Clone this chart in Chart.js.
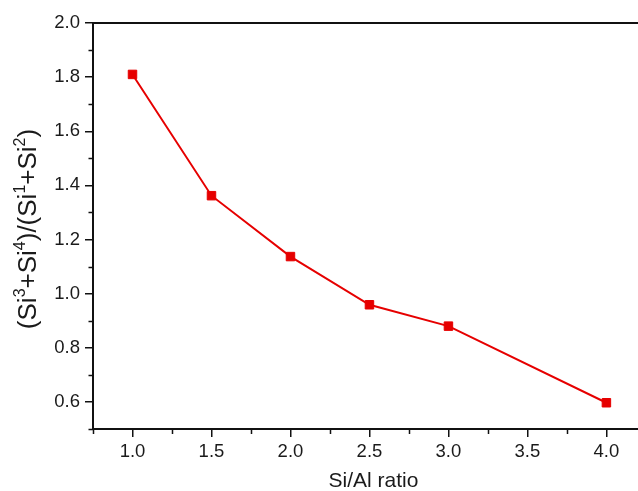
<!DOCTYPE html>
<html>
<head>
<meta charset="utf-8">
<script src="https://cdn.jsdelivr.net/npm/chart.js@4"></script>
<style>
html,body{margin:0;padding:0;background:#fff;overflow:hidden;}
canvas{display:block;}
</style>
</head>
<body>
<canvas id="c" width="638" height="491"></canvas>
<script>
// Data
const siAlRatio = [1.0, 1.5, 2.0, 2.5, 3.0, 4.0];
const siRatioValues = [1.81, 1.362, 1.137, 0.959, 0.880, 0.597];

// Tick values
const xMajorTicks = [1.0, 1.5, 2.0, 2.5, 3.0, 3.5, 4.0];
const xMinorTicks = [0.75, 1.25, 1.75, 2.25, 2.75, 3.25, 3.75];
const yMajorTicks = [0.6, 0.8, 1.0, 1.2, 1.4, 1.6, 1.8, 2.0];
const yMinorTicks = [0.5, 0.7, 0.9, 1.1, 1.3, 1.5, 1.7, 1.9];

// Axis titles (segments: [text, isSuperscript])
const xTitle = 'Si/Al ratio';
const yTitleParts = [['(Si',0],['3',1],['+Si',0],['4',1],[')/(Si',0],['1',1],['+Si',0],['2',1],[')',0]];

const FONT = '"Liberation Sans", Arial, sans-serif';
const lineColor = '#e60000';

const decorPlugin = {
  id: 'decor',
  afterDraw(chart) {
    const ctx = chart.ctx;
    const xs = chart.scales.x, ys = chart.scales.y;
    const ca = chart.chartArea;
    ctx.save();
    // top frame line
    ctx.strokeStyle = '#111';
    ctx.lineWidth = 2;
    ctx.beginPath();
    ctx.moveTo(ca.left - 1, ca.top);
    ctx.lineTo(chart.width, ca.top);
    ctx.stroke();
    // minor ticks
    ctx.lineWidth = 1.5;
    ctx.beginPath();
    xMinorTicks.forEach(v => {
      const p = Math.round(xs.getPixelForValue(v)) + 0.5;
      ctx.moveTo(p, ca.bottom);
      ctx.lineTo(p, ca.bottom + 5);
    });
    yMinorTicks.forEach(v => {
      const p = Math.round(ys.getPixelForValue(v)) + 0.5;
      ctx.moveTo(ca.left - 4.5, p);
      ctx.lineTo(ca.left, p);
    });
    ctx.stroke();
    // x title
    ctx.fillStyle = '#1a1a1a';
    ctx.font = '21px ' + FONT;
    ctx.textAlign = 'center';
    ctx.textBaseline = 'alphabetic';
    ctx.fillText(xTitle, xs.getPixelForValue(2.5) + 4, 486.5);
    // y title with superscripts
    const mainFont = '26px ' + FONT, supFont = '16px ' + FONT;
    let total = 0;
    yTitleParts.forEach(([t, s]) => { ctx.font = s ? supFont : mainFont; total += ctx.measureText(t).width; });
    ctx.translate(36, (ca.top + ca.bottom) / 2 + 3);
    ctx.rotate(-Math.PI / 2);
    ctx.textAlign = 'left';
    let pos = -total / 2;
    yTitleParts.forEach(([t, s]) => {
      ctx.font = s ? supFont : mainFont;
      ctx.fillText(t, pos, s ? -11 : 0);
      pos += ctx.measureText(t).width;
    });
    ctx.restore();
  }
};

new Chart(document.getElementById('c'), {
  type: 'line',
  data: {
    datasets: [{
      data: siAlRatio.map((x, i) => ({x: x, y: siRatioValues[i]})),
      borderColor: lineColor,
      backgroundColor: lineColor,
      borderWidth: 2,
      pointStyle: 'rect',
      pointRadius: 6,
      pointHoverRadius: 6,
      pointBorderWidth: 1,
      pointBackgroundColor: lineColor,
      pointBorderColor: lineColor,
      tension: 0,
      clip: false
    }]
  },
  options: {
    responsive: false,
    animation: false,
    devicePixelRatio: 1,
    layout: {autoPadding: false, padding: {left: 0, top: 23, right: 0, bottom: 0}},
    plugins: {legend: {display: false}, tooltip: {enabled: false}},
    events: [],
    scales: {
      x: {
        type: 'linear',
        min: 0.75,
        max: 4.2,
        afterBuildTicks: s => { s.ticks = xMajorTicks.map(v => ({value: v})); },
        afterFit: s => { s.height = 62; s.paddingLeft = 0; s.paddingRight = 0; },
        ticks: {
          autoSkip: false,
          maxRotation: 0,
          padding: 4,
          color: '#1a1a1a',
          font: {family: FONT, size: 18.5},
          callback: v => v.toFixed(1)
        },
        grid: {display: true, drawOnChartArea: false, drawTicks: true, tickLength: 8, color: '#111', lineWidth: 1.5},
        border: {display: true, color: '#111', width: 2}
      },
      y: {
        type: 'linear',
        min: 0.5,
        max: 2.0,
        afterBuildTicks: s => { s.ticks = yMajorTicks.map(v => ({value: v})); },
        afterFit: s => { s.width = 93; s.paddingTop = 0; s.paddingBottom = 0; },
        ticks: {
          autoSkip: false,
          padding: 5,
          color: '#1a1a1a',
          font: {family: FONT, size: 18.5},
          callback: v => v.toFixed(1)
        },
        grid: {display: true, drawOnChartArea: false, drawTicks: true, tickLength: 8, color: '#111', lineWidth: 1.5},
        border: {display: true, color: '#111', width: 2}
      }
    }
  },
  plugins: [decorPlugin]
});
</script>
</body>
</html>
